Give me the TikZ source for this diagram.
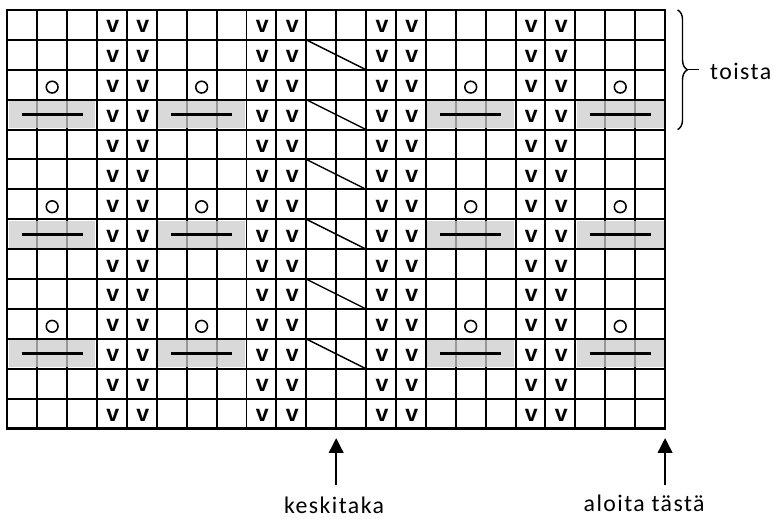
\documentclass[tikz,border=0pt]{standalone}
\usepackage{fontspec}
\usepackage{tikz}
\usetikzlibrary{positioning,calc,arrows.meta,decorations.pathreplacing}
\newfontfamily\chartfont{Liberation Sans}
\newfontfamily\notefont[LetterSpace=6]{Carlito}
\tikzset{
  gridln/.style  = {line width=1.4pt},
  edgeln/.style  = {line width=1.7pt},
  shadecell/.style = {fill=black!20, fill opacity=0.75},
  barln/.style   = {line width=2.2pt},
  cable/.style   = {line width=1pt},
  slip/.style    = {font=\chartfont\bfseries\fontsize{16.5}{16.5}\selectfont,
                    inner sep=0pt},
  yo/.style      = {circle, draw, line width=1.1pt, inner sep=0pt,
                    minimum size=8.4pt},
  note/.style    = {font=\notefont\fontsize{17}{17}\selectfont, inner sep=0pt},
  arr/.style     = {line width=1pt, -{Triangle[length=10.5pt,width=10.5pt]}},
  brc/.style     = {line width=1pt, decorate,
                    decoration={brace, amplitude=7pt}},
}
\begin{document}
\begin{tikzpicture}[x=0.75cm,y=0.75cm]
  \useasboundingbox (-0.244,-2.993) rectangle (25.61,14.334);
  % chart grid
  \foreach \c in {1,...,21}
    \draw[gridln] (\c,0) -- (\c,14);
  \foreach \r in {1,...,13}
    \draw[gridln] (0,\r) -- (22,\r);
  \draw[edgeln] (0,0) rectangle (22,14);
  % shaded rows
  \foreach \r in {4,8,12}
    \foreach \c in {0,5,14,19}
      \fill[shadecell] (\c+0.05,14.05-\r) rectangle (\c+2.95,14.95-\r);
  \foreach \r in {4,8,12}
    \foreach \c in {0,5,14,19}
      \draw[barln] (\c+0.48,14.5-\r) -- (\c+2.52,14.5-\r);
  % slipped stitches
  \foreach \c in {3,4,8,9,12,13,17,18}
    \foreach \r in {1,...,14}
      \node[slip] (v\c-\r) at (\c+0.53,14.44-\r) {v};
  % yarn overs
  \foreach \c in {1,6,15,20}
    \foreach \r in {3,7,11}
      \node[yo] (o\c-\r) at (\c+0.5,14.42-\r) {};
  % cables
  \foreach \r in {2,4,...,12}
    \draw[cable] (10,15-\r) -- (12,14-\r);
  % repeat brace
  \draw[brc] (22.42,14) -- (22.42,10);
  \coordinate (tip) at (22.78,12);
  \node[note, anchor=base west] (rep) at (23.5,11.66) {toista};
  \draw[line width=1pt] (tip) -- ++(0.36,0);
  % arrows below
  \coordinate (kb) at (11,-1.89);
  \coordinate (kt) at (11,-0.32);
  \coordinate (ab) at (22,-1.89);
  \coordinate (at) at (22,-0.32);
  \draw[arr] (kb) -- (kt);
  \draw[arr] (ab) -- (at);
  \node[note, anchor=base] (mid) at (10.93,-2.85) {keskitaka};
  \node[note, anchor=base] (start) at (21.3,-2.77) {aloita tästä};
\end{tikzpicture}
\end{document}
